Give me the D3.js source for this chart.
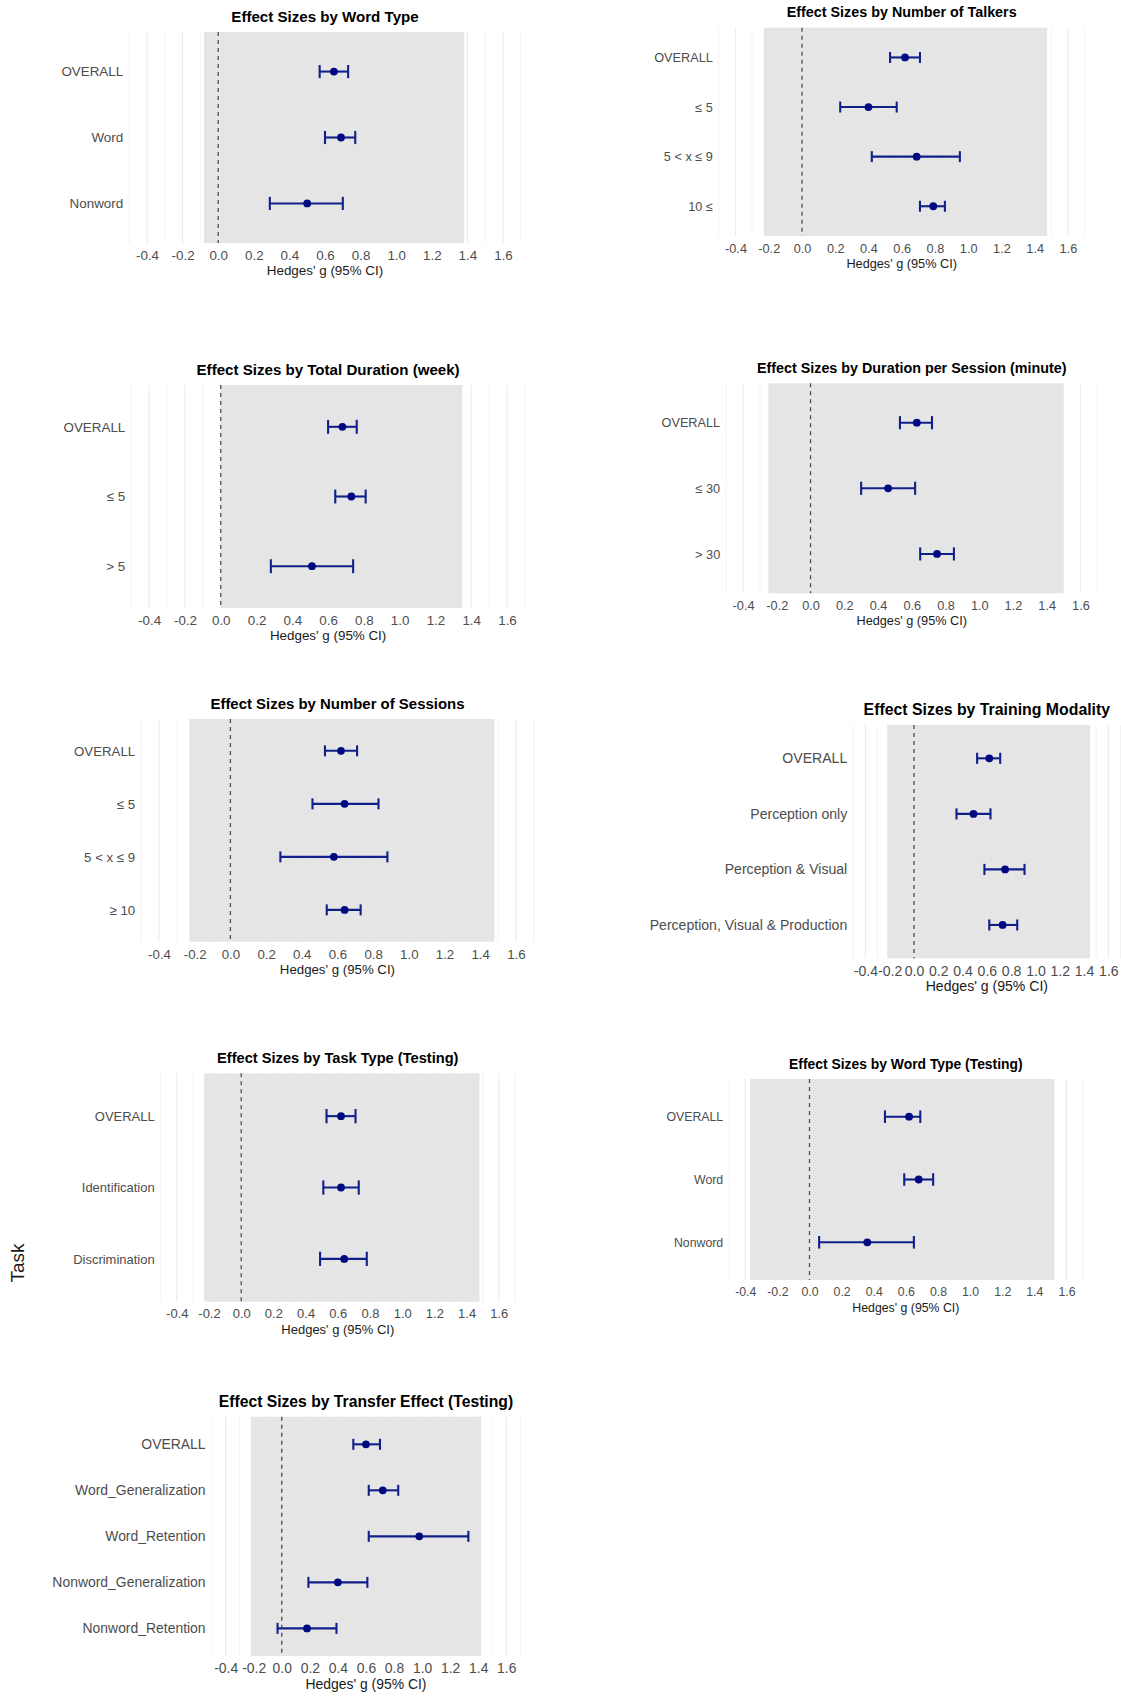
<!DOCTYPE html>
<html>
<head>
<meta charset="utf-8">
<script src="https://cdn.jsdelivr.net/npm/d3@7"></script>
<style>
  html, body { margin: 0; padding: 0; background: #ffffff; overflow: hidden; }
  svg { display: block; font-family: "Liberation Sans", Arial, Helvetica, sans-serif; }
</style>
</head>
<body>
<svg id="chart" width="1121" height="1696"></svg>
<script>
// ---- Shared x axis ticks (Hedges' g) ----
const xTicks = [-0.4, -0.2, 0.0, 0.2, 0.4, 0.6, 0.8, 1.0, 1.2, 1.4, 1.6];

// ---- Word type ----
const wordTypeLabels = ["OVERALL", "Word", "Nonword"];
const wordTypeEst    = [0.65, 0.69, 0.50];
const wordTypeLo     = [0.57, 0.60, 0.29];
const wordTypeHi     = [0.73, 0.77, 0.70];

// ---- Number of talkers ----
const talkersLabels = ["OVERALL", "≤ 5", "5 < x ≤ 9", "10 ≤"];
const talkersEst    = [0.62, 0.40, 0.69, 0.79];
const talkersLo     = [0.53, 0.23, 0.42, 0.71];
const talkersHi     = [0.71, 0.57, 0.95, 0.86];

// ---- Total duration (week) ----
const totalDurLabels = ["OVERALL", "≤ 5", "> 5"];
const totalDurEst    = [0.68, 0.73, 0.51];
const totalDurLo     = [0.60, 0.64, 0.28];
const totalDurHi     = [0.76, 0.81, 0.74];

// ---- Duration per session (minute) ----
const sessDurLabels = ["OVERALL", "≤ 30", "> 30"];
const sessDurEst    = [0.63, 0.46, 0.75];
const sessDurLo     = [0.53, 0.30, 0.65];
const sessDurHi     = [0.72, 0.62, 0.85];

// ---- Number of sessions ----
const sessionsLabels = ["OVERALL", "≤ 5", "5 < x ≤ 9", "≥ 10"];
const sessionsEst    = [0.62, 0.64, 0.58, 0.64];
const sessionsLo     = [0.53, 0.46, 0.28, 0.54];
const sessionsHi     = [0.71, 0.83, 0.88, 0.73];

// ---- Training modality ----
const modalityLabels = ["OVERALL", "Perception only", "Perception & Visual", "Perception, Visual & Production"];
const modalityEst    = [0.62, 0.49, 0.75, 0.73];
const modalityLo     = [0.52, 0.35, 0.58, 0.62];
const modalityHi     = [0.71, 0.63, 0.91, 0.85];

// ---- Task type (testing) ----
const taskLabels = ["OVERALL", "Identification", "Discrimination"];
const taskEst    = [0.62, 0.62, 0.64];
const taskLo     = [0.53, 0.51, 0.49];
const taskHi     = [0.71, 0.73, 0.78];

// ---- Word type (testing) ----
const testWordLabels = ["OVERALL", "Word", "Nonword"];
const testWordEst    = [0.62, 0.68, 0.36];
const testWordLo     = [0.47, 0.59, 0.06];
const testWordHi     = [0.69, 0.77, 0.65];

// ---- Transfer effect (testing) ----
const transferLabels = ["OVERALL", "Word_Generalization", "Word_Retention", "Nonword_Generalization", "Nonword_Retention"];
const transferEst    = [0.60, 0.72, 0.98, 0.40, 0.18];
const transferLo     = [0.51, 0.62, 0.62, 0.19, -0.03];
const transferHi     = [0.70, 0.83, 1.33, 0.61, 0.39];

// ---- Shaded band extents per panel (x units) ----
const shadeMin = [-0.08, -0.23, 0.00, -0.25, -0.23, -0.22, -0.23, -0.37, -0.22];
const shadeMax = [1.38, 1.475, 1.35, 1.50, 1.48, 1.45, 1.48, 1.525, 1.42];

const titles = [
  "Effect Sizes by Word Type",
  "Effect Sizes by Number of Talkers",
  "Effect Sizes by Total Duration (week)",
  "Effect Sizes by Duration per Session (minute)",
  "Effect Sizes by Number of Sessions",
  "Effect Sizes by Training Modality",
  "Effect Sizes by Task Type (Testing)",
  "Effect Sizes by Word Type (Testing)",
  "Effect Sizes by Transfer Effect (Testing)"
];

const datasets = [
  [wordTypeLabels, wordTypeEst, wordTypeLo, wordTypeHi],
  [talkersLabels, talkersEst, talkersLo, talkersHi],
  [totalDurLabels, totalDurEst, totalDurLo, totalDurHi],
  [sessDurLabels, sessDurEst, sessDurLo, sessDurHi],
  [sessionsLabels, sessionsEst, sessionsLo, sessionsHi],
  [modalityLabels, modalityEst, modalityLo, modalityHi],
  [taskLabels, taskEst, taskLo, taskHi],
  [testWordLabels, testWordEst, testWordLo, testWordHi],
  [transferLabels, transferEst, transferLo, transferHi]
];

// Panel boxes in page pixels: [left, right, top, bottom, textScale]
const boxes = [
  [129.2, 520.8,   32.0,  243.0, 1.00],
  [718.9, 1084.5,  27.7,  236.0, 0.95],
  [131.3, 524.9,  385.0,  608.0, 1.00],
  [726.2, 1097.3, 383.3,  593.3, 0.95],
  [141.2, 533.7,  719.0,  941.7, 0.99],
  [853.2, 1120.5, 725.0,  958.3, 1.05],
  [160.7, 514.9, 1073.3, 1301.7, 0.97],
  [729.2, 1082.5, 1079.0, 1280.0, 0.92],
  [211.6, 520.3, 1416.7, 1656.0, 1.04]
];

const svg = d3.select("#chart");
const xDomain = [-0.5, 1.7];
const majorGrid = xTicks;
const minorGrid = d3.range(-5, 18, 2).map(v => +(v / 10).toFixed(1));

const pointColor = "#000a80";
const barColor = "#10208a";
const baseText = 13.4;
const baseTitle = 15.1;

datasets.forEach((ds, i) => {
  const [labels, est, lo, hi] = ds;
  const [L, R, T, B, s] = boxes[i];
  const x = d3.scaleLinear().domain(xDomain).range([L, R]);
  const y = d3.scalePoint().domain(labels).range([T, B]).padding(0.6);
  const g = svg.append("g");

  // background grid
  const grid = g.append("g");
  grid.selectAll("line.minor").data(minorGrid).join("line")
    .attr("class", "minor")
    .attr("x1", d => x(d)).attr("x2", d => x(d))
    .attr("y1", T).attr("y2", B)
    .attr("stroke", "#ebebeb").attr("stroke-width", 0.6);
  grid.selectAll("line.major").data(majorGrid).join("line")
    .attr("class", "major")
    .attr("x1", d => x(d)).attr("x2", d => x(d))
    .attr("y1", T).attr("y2", B)
    .attr("stroke", "#ebebeb").attr("stroke-width", 1.1);

  // shaded band
  g.append("rect")
    .attr("x", x(shadeMin[i]))
    .attr("width", x(shadeMax[i]) - x(shadeMin[i]))
    .attr("y", T).attr("height", B - T)
    .attr("fill", "#e5e5e5");

  // faint grid showing through the band
  const inner = g.append("g").attr("opacity", 0.45);
  inner.selectAll("line").data(minorGrid.concat(majorGrid).filter(d => d > shadeMin[i] && d < shadeMax[i]))
    .join("line")
    .attr("x1", d => x(d)).attr("x2", d => x(d))
    .attr("y1", T).attr("y2", B)
    .attr("stroke", "#eeeeee").attr("stroke-width", 1);

  // zero reference line
  g.append("line")
    .attr("x1", x(0)).attr("x2", x(0))
    .attr("y1", T).attr("y2", B)
    .attr("stroke", "#4d4d4d").attr("stroke-width", 1.3)
    .attr("stroke-dasharray", "4,4");

  // x axis
  const xAxis = d3.axisBottom(x).tickValues(xTicks).tickSize(0).tickPadding(7.5)
    .tickFormat(d => d.toFixed(1));
  const ax = g.append("g").attr("transform", `translate(0,${B})`).call(xAxis);
  ax.select(".domain").remove();
  ax.selectAll("text")
    .attr("fill", "#4d4d4d")
    .style("font-size", (baseText * s) + "px")
    .style("font-family", "'Liberation Sans', Arial, sans-serif");

  // y axis (categories)
  const yAxis = d3.axisLeft(y).tickSize(0).tickPadding(6);
  const ay = g.append("g").attr("transform", `translate(${L},0)`).call(yAxis);
  ay.select(".domain").remove();
  ay.selectAll("text")
    .attr("fill", "#4d4d4d")
    .style("font-size", (baseText * s) + "px")
    .style("font-family", "'Liberation Sans', Arial, sans-serif");

  // axis title
  g.append("text")
    .attr("x", (L + R) / 2).attr("y", B + 27.5)
    .attr("text-anchor", "middle").attr("dominant-baseline", "central")
    .attr("fill", "#1a1a1a")
    .style("font-size", (baseText * s) + "px")
    .text("Hedges' g (95% CI)");

  // panel title
  g.append("text")
    .attr("x", (L + R) / 2).attr("y", T - 15.5)
    .attr("text-anchor", "middle").attr("dominant-baseline", "central")
    .attr("fill", "#000000").attr("font-weight", "bold")
    .style("font-size", (baseTitle * s) + "px")
    .text(titles[i]);

  // error bars
  const step = y.step();
  const cap = Math.max(5.5, 0.1 * step);
  const rows = labels.map((lab, k) => ({ lab, est: est[k], lo: lo[k], hi: hi[k] }));
  const bars = g.append("g").attr("stroke", barColor).attr("stroke-width", 2.1).attr("fill", "none");
  bars.selectAll("line.h").data(rows).join("line").attr("class", "h")
    .attr("x1", d => x(d.lo)).attr("x2", d => x(d.hi))
    .attr("y1", d => y(d.lab)).attr("y2", d => y(d.lab));
  bars.selectAll("line.l").data(rows).join("line").attr("class", "l")
    .attr("x1", d => x(d.lo)).attr("x2", d => x(d.lo))
    .attr("y1", d => y(d.lab) - cap).attr("y2", d => y(d.lab) + cap);
  bars.selectAll("line.r").data(rows).join("line").attr("class", "r")
    .attr("x1", d => x(d.hi)).attr("x2", d => x(d.hi))
    .attr("y1", d => y(d.lab) - cap).attr("y2", d => y(d.lab) + cap);

  // point estimates
  g.append("g").selectAll("circle").data(rows).join("circle")
    .attr("cx", d => x(d.est)).attr("cy", d => y(d.lab))
    .attr("r", 3.9).attr("fill", pointColor);
});

// shared y-axis title
svg.append("text")
  .attr("transform", "translate(17,1263) rotate(-90)")
  .attr("text-anchor", "middle").attr("dominant-baseline", "central")
  .attr("fill", "#1a1a1a")
  .style("font-size", "19px")
  .text("Task");
</script>
</body>
</html>
